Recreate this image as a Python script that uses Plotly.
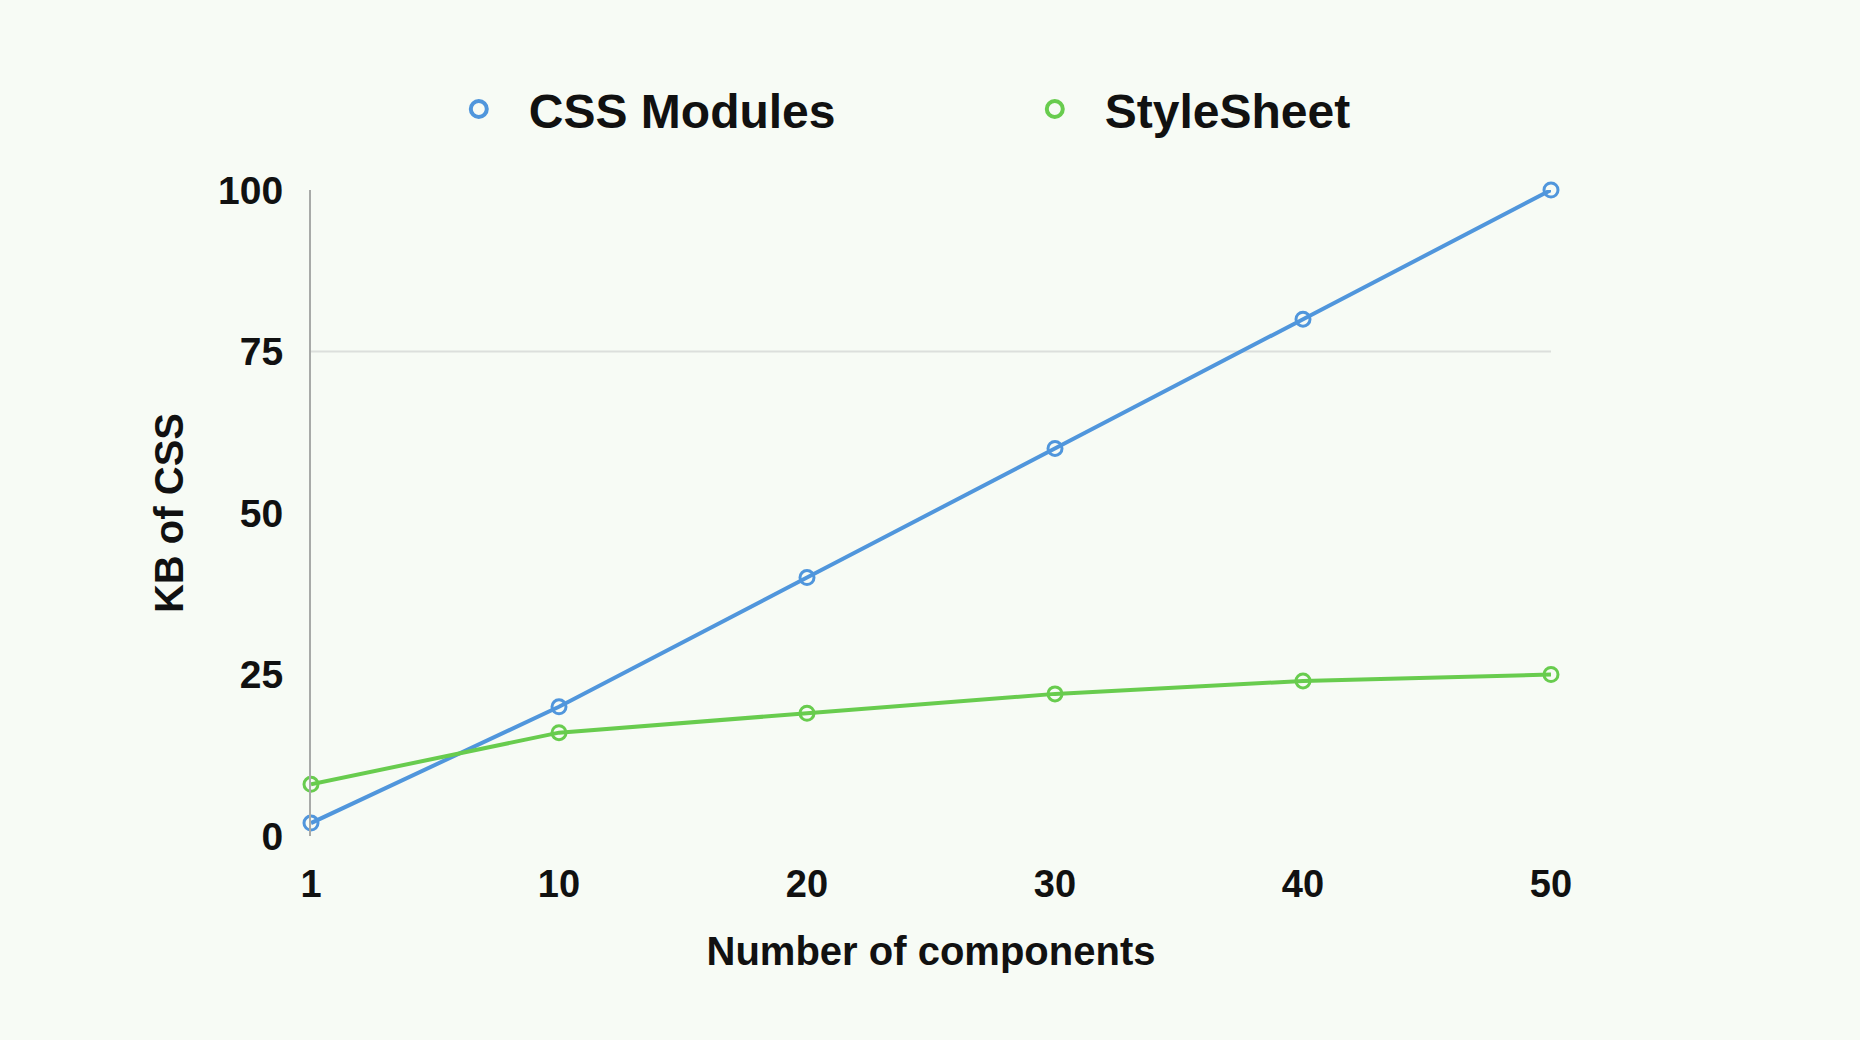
import plotly.graph_objects as go

components = ["1", "10", "20", "30", "40", "50"]
css_modules_kb = [2, 20, 40, 60, 80, 100]
stylesheet_kb = [8, 16, 19, 22, 24, 25]
y_ticks = [0, 25, 50, 75, 100]

BLUE = "#5096dc"
GREEN = "#68cc4e"
FONT = "Liberation Sans, Arial, sans-serif"

fig = go.Figure()
series = [("CSS Modules", css_modules_kb, BLUE), ("StyleSheet", stylesheet_kb, GREEN)]
for name, values, color in series:
    fig.add_trace(go.Scatter(
        x=components, y=values, name=name, mode="lines+markers",
        legendgroup=name, showlegend=False,
        line=dict(color=color, width=4),
        marker=dict(symbol="circle-open", size=14, color=color, line=dict(width=3)),
        cliponaxis=False,
    ))
for name, values, color in series:
    # legend entry (marker-only symbol, as in the reference)
    fig.add_trace(go.Scatter(
        x=[None], y=[None], name=name, mode="markers", legendgroup=name,
        marker=dict(symbol="circle-open", size=16, color=color, line=dict(width=4)),
        hoverinfo="skip",
    ))

fig.add_shape(type="line", xref="paper", x0=0, x1=1, yref="y", y0=75, y1=75,
              line=dict(color="#dcdfdc", width=2), layer="below")

fig.update_layout(
    width=1860, height=1040,
    margin=dict(l=311, r=309, t=190, b=204),
    paper_bgcolor="#f7fbf5", plot_bgcolor="#f7fbf5",
    font=dict(family=FONT, color="#111111", weight="bold"),
    showlegend=True,
    legend=dict(
        orientation="h", x=0.095, xanchor="left", y=1.125, yanchor="middle",
        font=dict(size=48, family=FONT, color="#111111", weight="bold"),
        entrywidth=471, itemwidth=90, bgcolor="rgba(0,0,0,0)",
    ),
    xaxis=dict(
        type="category", range=[0, 5], showgrid=False, zeroline=False,
        showline=False, ticks="", tickfont=dict(size=38, weight="bold"),
        ticklabelstandoff=22,
        title=dict(text="Number of components", font=dict(size=40, weight="bold"), standoff=32),
    ),
    yaxis=dict(
        range=[0, 100], tickvals=y_ticks, showgrid=False, zeroline=False,
        showline=True, linecolor="#a8aaa8", linewidth=2, ticks="",
        tickfont=dict(size=39, weight="bold"), ticklabelstandoff=18,
        title=dict(text="KB of CSS", font=dict(size=40, weight="bold"), standoff=22),
    ),
)

fig.write_html("out.html")
